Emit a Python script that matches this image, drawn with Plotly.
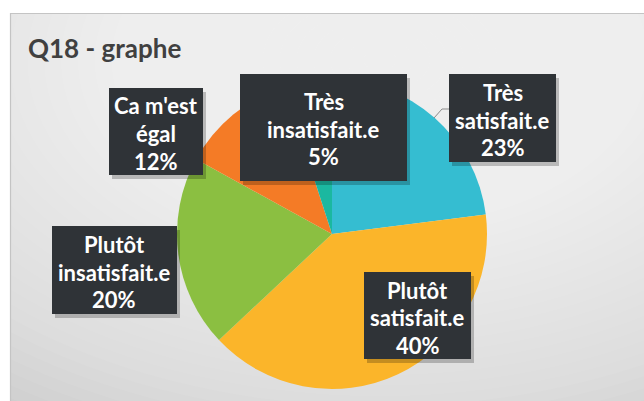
import plotly.graph_objects as go

# ---- data ----
categories = ["Très satisfait.e", "Plutôt satisfait.e", "Plutôt insatisfait.e",
              "Ca m'est égal", "Très insatisfait.e"]
values = [23, 40, 20, 12, 5]
colors = ["#35BDD1", "#FBB52A", "#8BBF41", "#F47B26", "#1BB8A0"]
title_text = "Q18 - graphe"

# ---- layout helpers (pixel positions) ----
W, H = 644, 401
def px(x):
    return x / W
def py(y):
    return 1 - y / H

# label boxes (x0, y0, x1, y1) in pixels, same order as categories
boxes = [(449, 74, 556, 162), (364, 272, 471, 359), (52, 226, 177, 314),
         (109, 88, 203, 175), (240, 74, 407, 181)]

cx, cy, r = 332, 234, 155

fig = go.Figure()
fig.add_trace(go.Pie(
    labels=categories, values=values, sort=False, direction="clockwise",
    rotation=0, marker=dict(colors=colors, line=dict(width=0)),
    textinfo="none", showlegend=False, hoverinfo="label+percent",
    domain=dict(x=[px(cx - r), px(cx + r)], y=[py(cy + r), py(cy - r)]),
))

shapes = []
# frame background with soft radial light
shapes.append(dict(type="rect", xref="paper", yref="paper", layer="below",
                   x0=px(10), x1=px(644), y0=py(401), y1=py(13),
                   fillcolor="#CDCDCD", line=dict(width=0)))
gx, gy = 380, 60
n = 40
for i in range(n):
    rr = 420 - i * 10.5
    shapes.append(dict(type="circle", xref="paper", yref="paper", layer="below",
                       x0=px(gx - rr * 1.6), x1=px(gx + rr * 1.6),
                       y0=py(gy + rr), y1=py(gy - rr),
                       fillcolor="rgba(255,255,255,0.055)", line=dict(width=0)))
# white outside the frame (top / left strips)
shapes.append(dict(type="rect", xref="paper", yref="paper", layer="below",
                   x0=0, x1=1, y0=py(13), y1=1, fillcolor="white", line=dict(width=0)))
shapes.append(dict(type="rect", xref="paper", yref="paper", layer="below",
                   x0=0, x1=px(10), y0=0, y1=1, fillcolor="white", line=dict(width=0)))
shapes.append(dict(type="rect", xref="paper", yref="paper", layer="below",
                   x0=px(10.5), x1=px(650), y0=py(405), y1=py(13.5),
                   fillcolor="rgba(0,0,0,0)", line=dict(color="#C4C4C4", width=1.2)))
# leader line for first label
shapes.append(dict(type="path", xref="paper", yref="paper", layer="above",
                   path=f"M {px(434)},{py(118)} L {px(442)},{py(109)} L {px(449)},{py(109)}",
                   line=dict(color="#8A8A8A", width=1)))

annotations = [dict(text=title_text, xref="paper", yref="paper", x=px(26), y=py(48),
                    xanchor="left", yanchor="middle", showarrow=False,
                    font=dict(family="Lato", size=26, color="#404040", weight="bold"))]

for cat, val, (x0, y0, x1, y1) in zip(categories, values, boxes):
    shapes.append(dict(type="rect", xref="paper", yref="paper", layer="above",
                       x0=px(x0 + 3), x1=px(x1 + 3), y0=py(y1 + 4), y1=py(y0 + 4),
                       fillcolor="rgba(0,0,0,0.22)", line=dict(width=0)))
    shapes.append(dict(type="rect", xref="paper", yref="paper", layer="above",
                       x0=px(x0), x1=px(x1), y0=py(y1), y1=py(y0),
                       fillcolor="#2F3337", line=dict(width=0)))
    lines = cat.rsplit(" ", 1) + [f"{val}%"]
    bx, by = (x0 + x1) / 2, (y0 + y1) / 2
    for i, t in enumerate(lines):
        annotations.append(dict(text=t, xref="paper", yref="paper",
                                x=px(bx), y=py(by + (i - 1) * 27.5 + 2),
                                xanchor="center", yanchor="middle", showarrow=False,
                                font=dict(family="Lato", size=22, color="white",
                                          weight="bold")))

fig.update_layout(width=W, height=H, margin=dict(l=0, r=0, t=0, b=0),
                  paper_bgcolor="white", plot_bgcolor="white",
                  shapes=shapes, annotations=annotations)
fig.write_html("out.html", config={"displayModeBar": False},
               post_script="document.body.style.margin='0';document.body.style.overflow='hidden';")
